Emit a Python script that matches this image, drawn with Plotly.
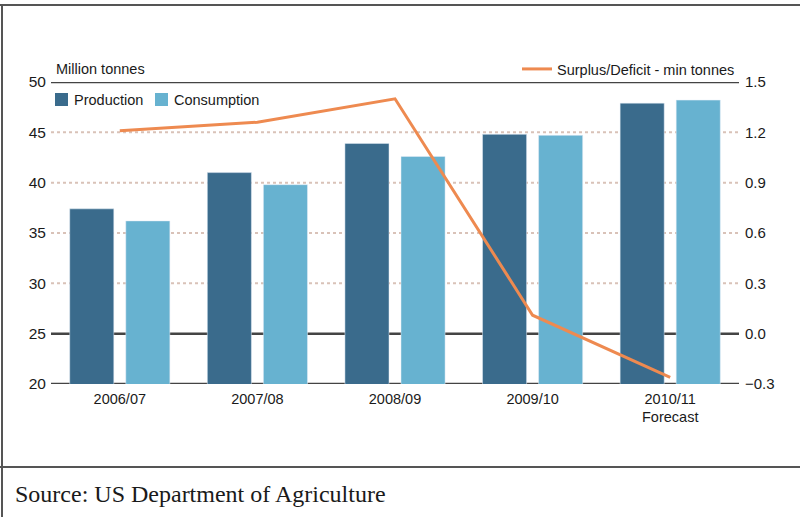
import plotly.graph_objects as go

# Seasons and values (million tonnes)
seasons = ["2006/07", "2007/08", "2008/09", "2009/10", "2010/11"]
season_labels = ["2006/07", "2007/08", "2008/09", "2009/10", "2010/11<br>Forecast"]
production = [37.4, 41.0, 43.9, 44.8, 47.9]
consumption = [36.2, 39.8, 42.6, 44.7, 48.2]
surplus_deficit = [1.21, 1.26, 1.40, 0.11, -0.26]

left_ticks = [20, 25, 30, 35, 40, 45, 50]
right_ticks = [-0.3, 0.0, 0.3, 0.6, 0.9, 1.2, 1.5]
solid_levels = [20, 25, 50]
dotted_levels = [30, 35, 40, 45]

PROD = "#3a6b8c"
CONS = "#67b2d0"
LINE = "#ee8a50"
DARK = "#444444"
FONT = "Liberation Sans, Arial, sans-serif"

fig = go.Figure()
fig.add_trace(go.Bar(x=seasons, y=production, name="Production",
                     marker_color=PROD, showlegend=False))
fig.add_trace(go.Bar(x=seasons, y=consumption, name="Consumption",
                     marker_color=CONS, showlegend=False))
fig.add_trace(go.Scatter(x=seasons, y=surplus_deficit, name="Surplus/Deficit - min tonnes",
                         mode="lines", line=dict(color=LINE, width=3),
                         yaxis="y2", legend="legend2"))

# plot-area geometry in pixels, used to place the frame, key and notes
L, R, T, B = 51, 739, 82, 384
W, H = R - L, B - T


def px(x):
    return (x - L) / W


def py(y):
    return (B - y) / H


shapes = []
for v in dotted_levels:
    shapes.append(dict(type="line", xref="paper", yref="y", x0=0, x1=1, y0=v, y1=v,
                       line=dict(color="#d9c2b8", width=2, dash="dot"), layer="below"))
for v in solid_levels:
    shapes.append(dict(type="line", xref="paper", yref="y", x0=0, x1=1, y0=v, y1=v,
                       line=dict(color=DARK, width=2.5), layer="below"))
# outer frame and source separator
frame = dict(color="#555555", width=2)
shapes.append(dict(type="line", xref="paper", yref="paper", x0=px(0), x1=px(800),
                   y0=py(5), y1=py(5), line=frame))
shapes.append(dict(type="line", xref="paper", yref="paper", x0=px(0), x1=px(800),
                   y0=py(467), y1=py(467), line=frame))
shapes.append(dict(type="line", xref="paper", yref="paper", x0=px(2), x1=px(2),
                   y0=py(5), y1=py(517), line=frame))

annotations = [
    dict(text="Million tonnes", xref="paper", yref="paper", x=px(54), y=py(69),
         xanchor="left", yanchor="middle", showarrow=False,
         font=dict(family=FONT, size=14.5, color="#1a1a1a")),
    dict(text="Source: US Department of Agriculture", xref="paper", yref="paper",
         x=px(13), y=py(494), xanchor="left", yanchor="middle", showarrow=False,
         font=dict(family="Liberation Serif, Times New Roman, serif", size=24, color="#1a1a1a")),
]

# key for the two bar series: coloured square followed by its name
bar_key = [("Production", PROD, 55), ("Consumption", CONS, 155)]
for name, colour, x0 in bar_key:
    shapes.append(dict(type="rect", xref="paper", yref="paper",
                       x0=px(x0), x1=px(x0 + 13), y0=py(106), y1=py(93),
                       fillcolor=colour, line=dict(width=0)))
    annotations.append(dict(text=name, xref="paper", yref="paper", x=px(x0 + 17), y=py(99.5),
                            xanchor="left", yanchor="middle", showarrow=False,
                            font=dict(family=FONT, size=14.5, color="#1a1a1a")))

fig.update_layout(
    width=800, height=517,
    margin=dict(l=L, r=800 - R, t=T, b=517 - B),
    paper_bgcolor="white", plot_bgcolor="white",
    barmode="group", bargap=0.185, bargroupgap=0.214,
    font=dict(family=FONT, size=15, color="#1a1a1a"),
    xaxis=dict(tickmode="array", tickvals=seasons, ticktext=season_labels,
               showgrid=False, showline=False, zeroline=False, ticks="",
               ticklabelstandoff=4, tickfont=dict(size=14.5)),
    yaxis=dict(range=[20, 50], tickvals=left_ticks, showgrid=False,
               zeroline=False, showline=False, ticks="", ticklabelstandoff=4,
               tickfont=dict(size=15.5)),
    yaxis2=dict(range=[-0.3, 1.5], tickvals=right_ticks, tickformat=".1f",
                overlaying="y", side="right", showgrid=False, zeroline=False,
                showline=False, ticks="", ticklabelstandoff=5,
                tickfont=dict(size=15)),
    legend2=dict(orientation="h", x=px(740), y=py(69), xanchor="right", yanchor="middle",
                 bgcolor="rgba(0,0,0,0)", font=dict(size=14.5), itemwidth=30),
    shapes=shapes,
    annotations=annotations,
)

fig.write_html("out.html")
